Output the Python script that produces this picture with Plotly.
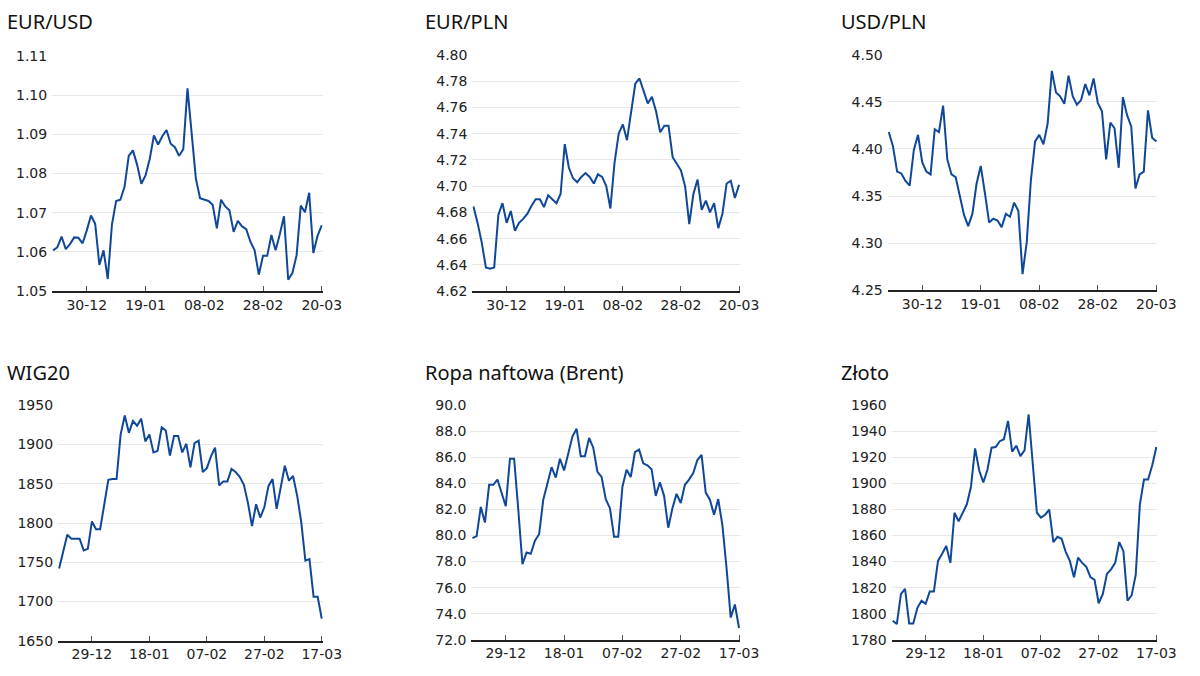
import plotly.graph_objects as go

# etykiety osi X (co 14 sesji)
dni_gora = ['30-12', '19-01', '08-02', '28-02', '20-03']
dni_dol = ['29-12', '18-01', '07-02', '27-02', '17-03']

eurusd = [1.0604, 1.0612, 1.0639, 1.0607, 1.0620, 1.0637, 1.0636, 1.0622, 1.0655, 1.0693,
          1.0672, 1.0567, 1.0604, 1.0531, 1.0670, 1.0730, 1.0733, 1.0766, 1.0845, 1.0859,
          1.0822, 1.0774, 1.0795, 1.0837, 1.0897, 1.0874, 1.0895, 1.0911, 1.0876, 1.0867,
          1.0845, 1.0862, 1.1017, 1.0900, 1.0787, 1.0737, 1.0733, 1.0730, 1.0720, 1.0660,
          1.0733, 1.0716, 1.0706, 1.0651, 1.0679, 1.0665, 1.0658, 1.0626, 1.0604, 1.0542,
          1.0590, 1.0590, 1.0643, 1.0604, 1.0645, 1.0691, 1.0529, 1.0546, 1.0591, 1.0718,
          1.0701, 1.0751, 1.0597, 1.0641, 1.0668]

eurpln = [4.6845, 4.672, 4.657, 4.638, 4.637, 4.638, 4.678, 4.687, 4.672, 4.681,
          4.666, 4.672, 4.675, 4.679, 4.685, 4.690, 4.690, 4.684, 4.693, 4.690,
          4.687, 4.694, 4.732, 4.714, 4.706, 4.703, 4.707, 4.710, 4.707, 4.702,
          4.709, 4.707, 4.700, 4.683, 4.718, 4.740, 4.747, 4.735, 4.755, 4.778,
          4.782, 4.773, 4.763, 4.768, 4.757, 4.741, 4.746, 4.746, 4.722, 4.717,
          4.712, 4.700, 4.671, 4.694, 4.705, 4.682, 4.689, 4.680, 4.687, 4.668,
          4.679, 4.702, 4.704, 4.691, 4.701]

usdpln = [4.418, 4.403, 4.376, 4.374, 4.366, 4.361, 4.399, 4.415, 4.386, 4.376,
          4.373, 4.421, 4.418, 4.446, 4.389, 4.373, 4.370, 4.351, 4.330, 4.318,
          4.331, 4.363, 4.382, 4.353, 4.322, 4.326, 4.324, 4.317, 4.331, 4.328,
          4.343, 4.334, 4.267, 4.301, 4.367, 4.408, 4.415, 4.405, 4.427, 4.483,
          4.460, 4.456, 4.448, 4.478, 4.456, 4.447, 4.452, 4.469, 4.457, 4.475,
          4.449, 4.440, 4.389, 4.428, 4.422, 4.380, 4.455, 4.436, 4.424, 4.358,
          4.373, 4.376, 4.441, 4.412, 4.408]

wig20 = [1742, 1762, 1785, 1780, 1780, 1780, 1765, 1767, 1802, 1792,
         1792, 1822, 1855, 1856, 1856, 1913, 1937, 1915, 1930, 1924,
         1933, 1904, 1913, 1890, 1892, 1922, 1918, 1886, 1911, 1911,
         1890, 1901, 1871, 1902, 1905, 1865, 1870, 1885, 1896, 1848,
         1853, 1853, 1869, 1865, 1859, 1849, 1826, 1796, 1824, 1807,
         1820, 1847, 1856, 1818, 1844, 1873, 1854, 1860, 1835, 1801,
         1752, 1754, 1706, 1706, 1678]

brent = [79.8, 79.95, 82.2, 81.0, 83.9, 83.9, 84.3, 83.25, 82.25, 85.9,
         85.9, 82.0, 77.8, 78.7, 78.6, 79.6, 80.1, 82.75, 84.05, 85.25,
         84.45, 85.9, 85.0, 86.4, 87.6, 88.2, 86.1, 86.1, 87.5, 86.75,
         84.9, 84.5, 82.8, 82.1, 79.9, 79.9, 83.75, 85.05, 84.5, 86.4,
         86.6, 85.55, 85.4, 85.1, 83.05, 84.1, 83.05, 80.6, 82.1, 83.2,
         82.5, 83.9, 84.3, 84.8, 85.8, 86.2, 83.3, 82.75, 81.6, 82.8,
         80.8, 77.5, 73.7, 74.7, 72.9]

zloto = [1794.5, 1792, 1815, 1819, 1792.5, 1792.5, 1804.5, 1810, 1807.5, 1817,
         1817, 1840.5, 1846, 1852, 1839, 1877.5, 1871, 1877.5, 1884, 1897.5,
         1927, 1910, 1900.8, 1910.5, 1927.5, 1928, 1932.5, 1934, 1948, 1924.5,
         1929, 1921, 1925.5, 1953, 1917.5, 1877.5, 1873.8, 1876, 1880, 1855,
         1859, 1857.5, 1847.5, 1840.5, 1828, 1843, 1839, 1836, 1828, 1826,
         1808, 1815, 1830.5, 1834, 1839, 1855, 1848, 1810, 1814, 1830,
         1884, 1903, 1903, 1914, 1928]

W, H = 1200, 676
kolor = '#0f4799'


def px_x(x):
    return x / W


def px_y(y):
    return 1 - y / H


# tytul, dane, etykiety, zakres y, krok, format, (lewo, prawo, gora, dol) w px
wykresy = [
    ('EUR/USD', eurusd, dni_gora, [1.05, 1.11], 0.01, '.2f', (53, 328, 49, 290)),
    ('EUR/PLN', eurpln, dni_gora, [4.62, 4.80], 0.02, '.2f', (480, 752, 48, 290)),
    ('USD/PLN', usdpln, dni_gora, [4.25, 4.50], 0.05, '.2f', (902, 1176, 48, 289)),
    ('WIG20', wig20, dni_dol, [1650, 1950], 50, 'd', (59, 328, 407, 648)),
    ('Ropa naftowa (Brent)', brent, dni_dol, [72, 90], 2, '.1f', (479, 752, 407, 647)),
    ('Złoto', zloto, dni_dol, [1780, 1960], 20, 'd', (906, 1176, 407, 647)),
]
tytuly_x = [5, 430, 853, 5, 430, 853]
tytuly_y = [14, 14, 14, 373, 373, 373]

fig = go.Figure()

for i, (tytul, dane, dni, zakres, krok, fmt, (l, r, t, b)) in enumerate(wykresy):
    n = '' if i == 0 else str(i + 1)
    x = list(range(len(dane)))
    fig.add_trace(go.Scatter(x=x, y=dane, mode='lines', xaxis='x' + n, yaxis='y' + n,
                             line=dict(color=kolor, width=2), showlegend=False,
                             hoverinfo='skip'))
    ost = len(dane) - 1
    fig.layout['xaxis' + n] = dict(
        domain=[px_x(l), px_x(r)], anchor='y' + n, range=[-0.25, ost + 0.25],
        tickvals=[ost - 56, ost - 42, ost - 28, ost - 14, ost], ticktext=dni,
        showgrid=False, zeroline=False, showline=True, linecolor='#222', linewidth=2,
        ticks='inside', ticklen=5, tickcolor='#555', tickwidth=1,
        tickfont=dict(family='DejaVu Sans', size=14, color='#222'))
    fig.layout['yaxis' + n] = dict(
        domain=[px_y(b), px_y(t)], anchor='x' + n, range=zakres, dtick=krok,
        tick0=zakres[0], tickformat=fmt, showgrid=True, gridcolor='#e8e8e8', gridwidth=1,
        zeroline=False, showline=False, ticks='', ticklabelstandoff=4,
        tickfont=dict(family='DejaVu Sans', size=14, color='#222'))
    fig.add_annotation(text=tytul, xref='paper', yref='paper', x=px_x(tytuly_x[i]),
                       y=px_y(tytuly_y[i]), xanchor='left', yanchor='middle',
                       showarrow=False, font=dict(family='Noto Sans', size=20, color='#111'))

fig.update_layout(autosize=True, margin=dict(l=0, r=0, t=0, b=0),
                  paper_bgcolor='white', plot_bgcolor='white')

# wykres na cale okno, bez marginesu strony
js = ("document.body.style.margin='0';document.body.style.overflow='hidden';"
      "Plotly.Plots.resize(document.getElementById('{plot_id}'));")
fig.write_html('out.html', config={'displayModeBar': False, 'responsive': True},
               default_width='100vw', default_height='100vh', post_script=js)
